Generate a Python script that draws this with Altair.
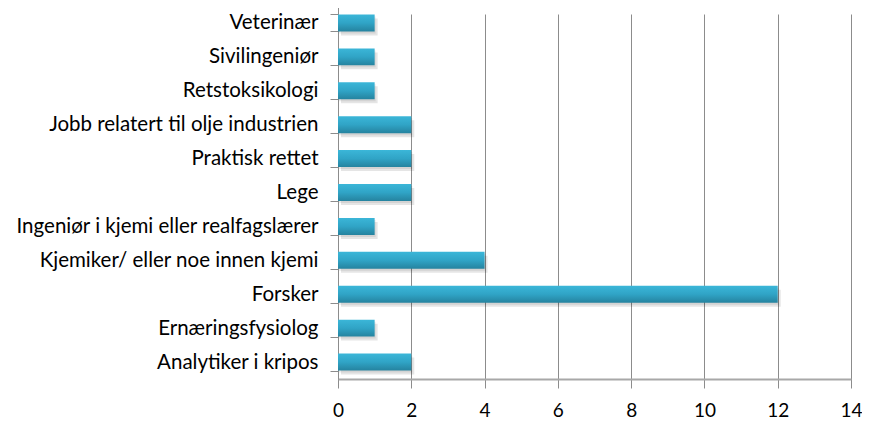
import altair as alt
import pandas as pd

categories = [
    "Veterinær",
    "Sivilingeniør",
    "Retstoksikologi",
    "Jobb relatert til olje industrien",
    "Praktisk rettet",
    "Lege ",
    "Ingeniør i kjemi eller realfagslærer",
    "Kjemiker/ eller noe innen kjemi",
    "Forsker",
    "Ernæringsfysiolog",
    "Analytiker i kripos",
]
values = [1, 1, 1, 2, 2, 2, 1, 4, 12, 1, 2]
x_ticks = [0, 2, 4, 6, 8, 10, 12, 14]

df = pd.DataFrame({"cat": categories, "val": values})

FONT = "Lato"
FS = 20.5

xscale = alt.Scale(domain=[0, 14], nice=False, zero=True)
yscale = alt.Scale(domain=categories, range=[-8, 365], paddingInner=0.5, paddingOuter=0.25)

xaxis = alt.Axis(
    values=x_ticks, grid=True, gridColor="#8c8c8c", gridWidth=1,
    domain=True, domainColor="#a8a8a8", domainWidth=2,
    ticks=True, tickColor="#8c8c8c", tickSize=9,
    labelFont=FONT, labelFontSize=19, labelColor="#000000",
    labelBaseline="alphabetic", labelPadding=28,
    labelFlush=False, title=None,
)
yaxis = alt.Axis(
    domain=True, domainColor="#8c8c8c", domainWidth=1,
    ticks=True, tickColor="#8c8c8c", tickSize=8, tickBand="extent",
    labelFont=FONT, labelFontSize=FS, labelColor="#000000", labelPadding=12,
    labelLimit=400, grid=False, title=None,
)

X = alt.X("val:Q", scale=xscale, axis=xaxis)
Y = alt.Y("cat:N", sort=categories, scale=yscale, axis=yaxis)

gradient = alt.Gradient(
    gradient="linear",
    stops=[
        alt.GradientStop(color="#3bb6d8", offset=0),
        alt.GradientStop(color="#30a4c6", offset=0.5),
        alt.GradientStop(color="#25839f", offset=1),
    ],
    x1=0, x2=0, y1=0, y2=1,
)

shadow1 = alt.Chart(df).mark_bar(color="#000000", opacity=0.10, xOffset=3, yOffset=4).encode(x=X, y=Y)
shadow2 = alt.Chart(df).mark_bar(color="#000000", opacity=0.08, xOffset=1, yOffset=2).encode(x=X, y=Y)
bars = alt.Chart(df).mark_bar(color=gradient).encode(x=X, y=Y)

chart = (
    alt.layer(shadow1, shadow2, bars)
    .properties(
        width=513, height=365,
        autosize=alt.AutoSizeParams(type="none"),
        padding={"left": 330, "top": 6, "right": 11, "bottom": 41},
        background="white",
    )
    .configure_view(stroke=None)
)

chart.save("out.html", embed_options={"renderer": "svg", "actions": False})
